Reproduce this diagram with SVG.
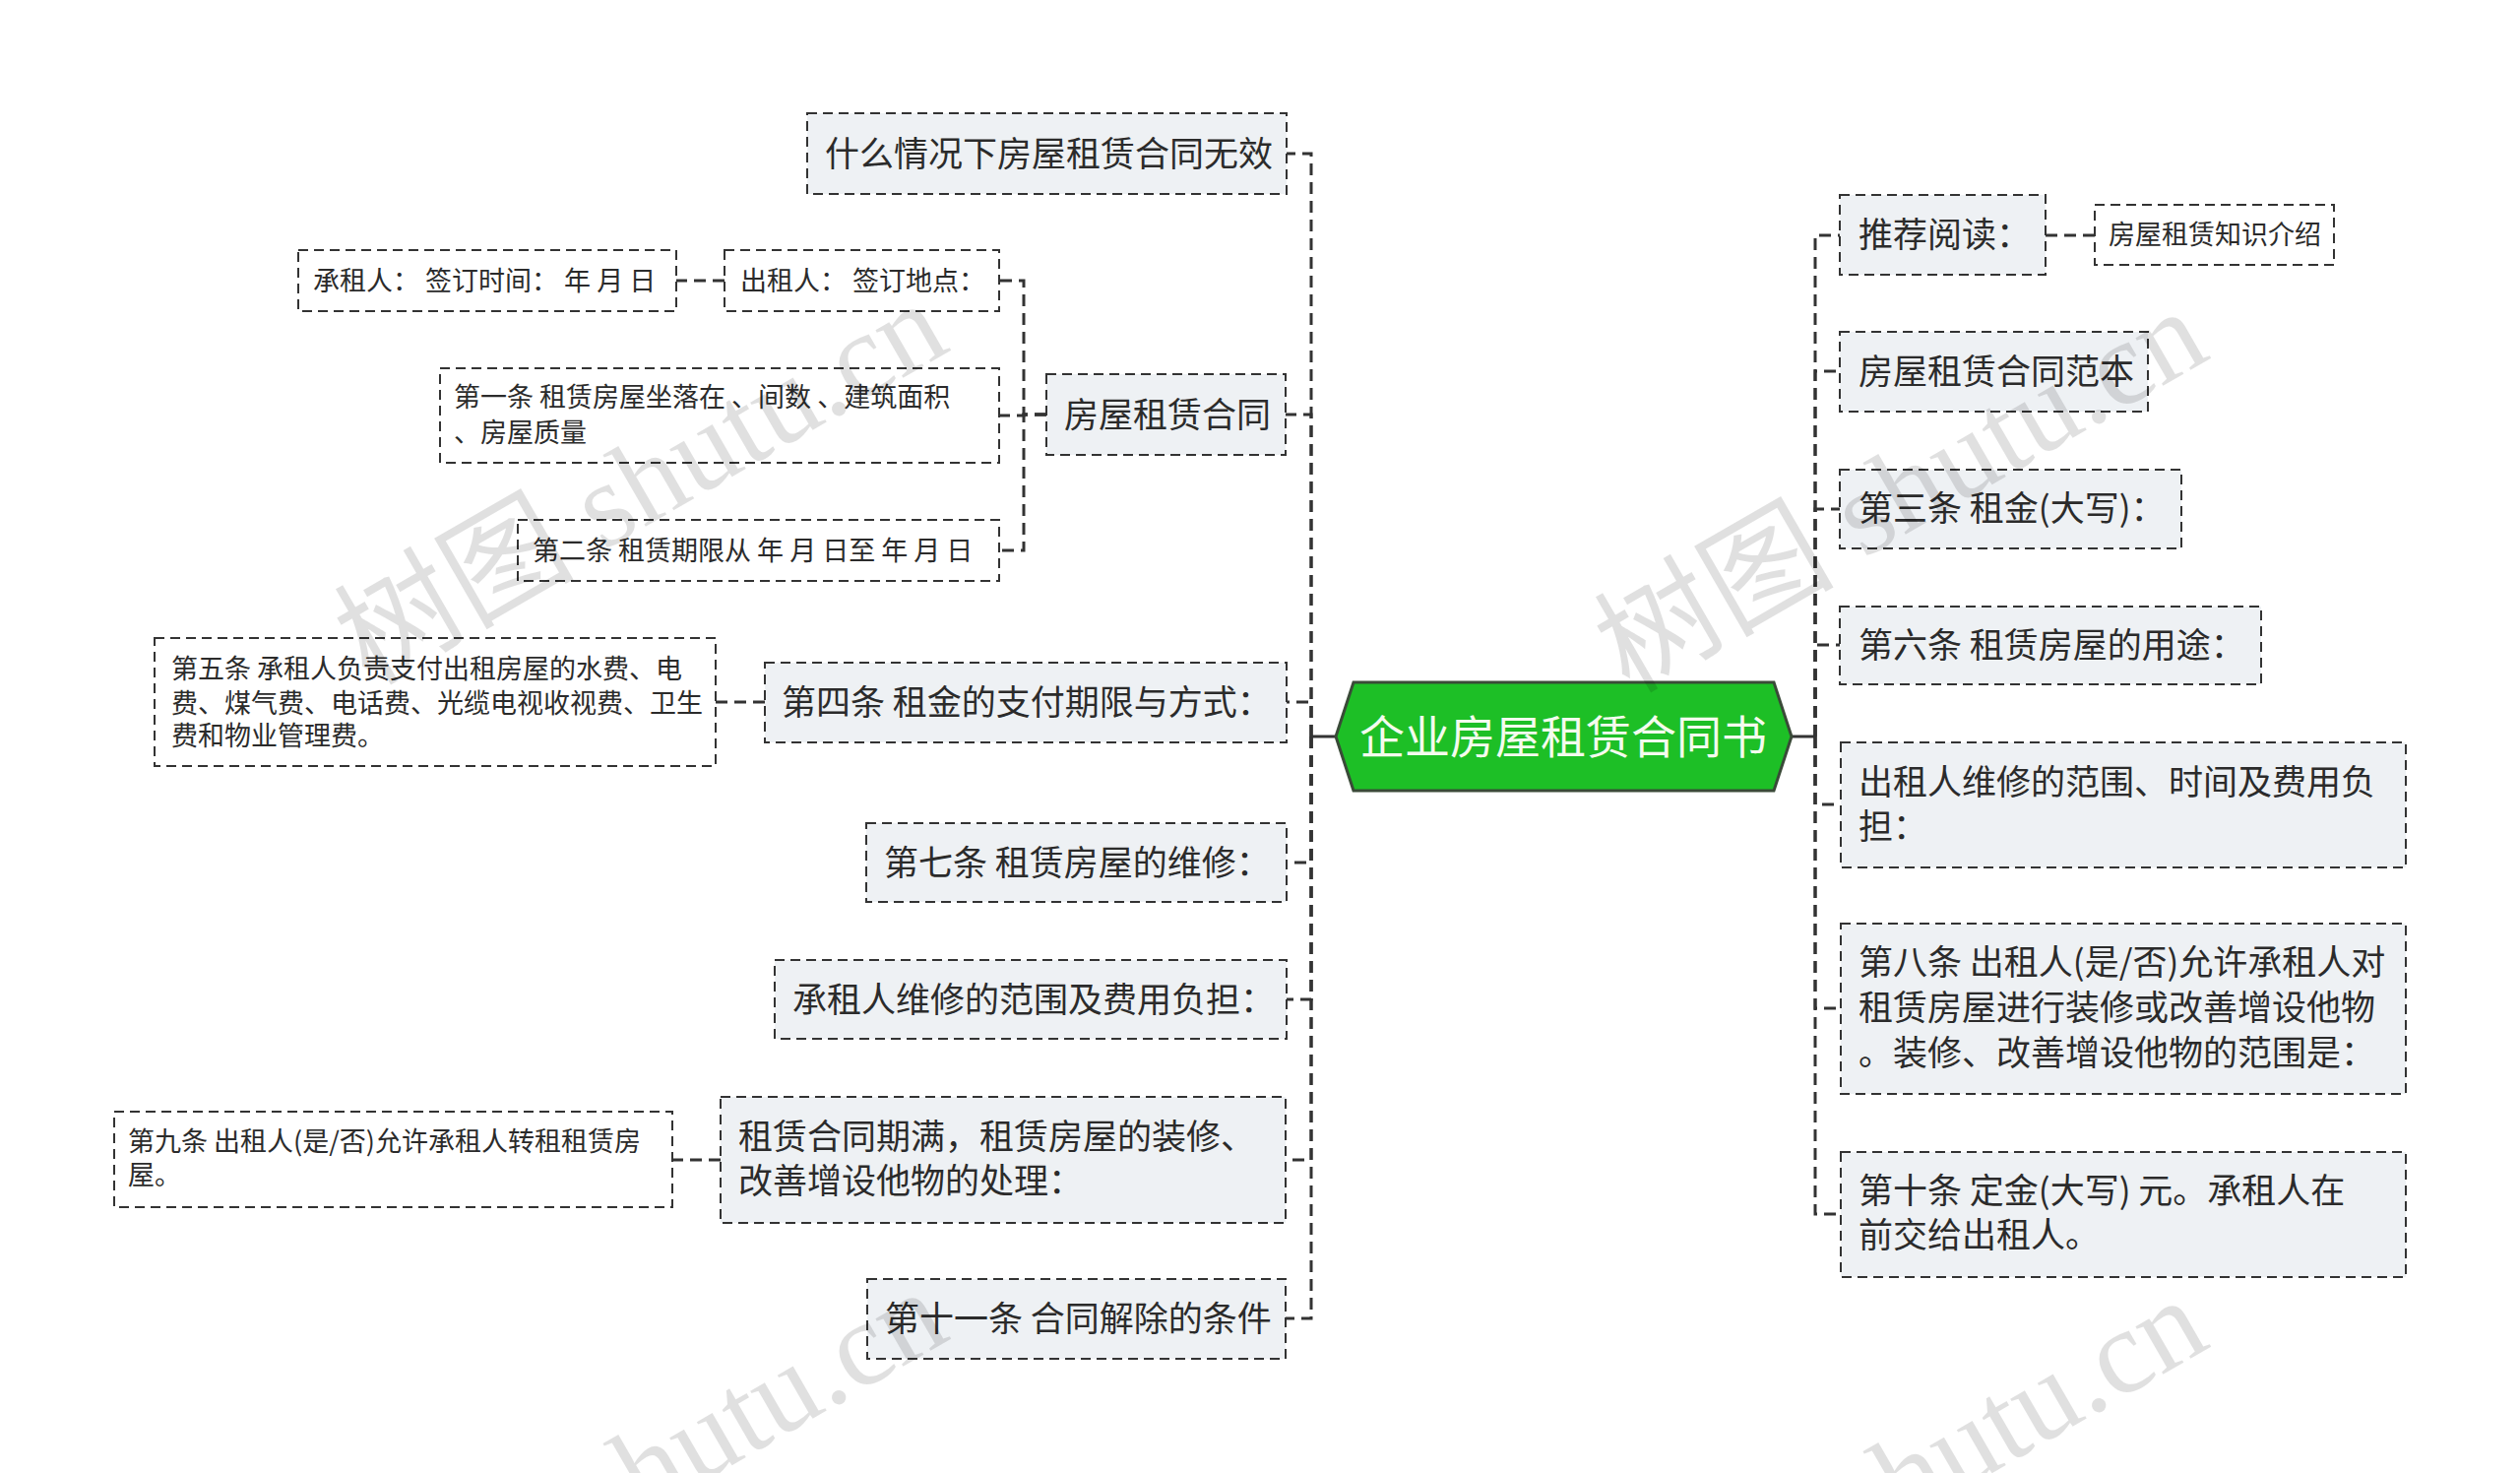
<svg xmlns="http://www.w3.org/2000/svg" width="2560" height="1496" viewBox="0 0 2560 1496">
<style>
.bg{fill:#ffffff}
.n1 rect{fill:#eef1f4;stroke:#333;stroke-width:2;stroke-dasharray:10 6}
.n2 rect{fill:#ffffff;stroke:#333;stroke-width:2;stroke-dasharray:10 6}
.t1{font-family:"Noto Sans CJK SC","Noto Sans",sans-serif;font-size:35px;fill:#2b2b2b}
.t2{font-family:"Noto Sans CJK SC","Noto Sans",sans-serif;font-size:27px;fill:#2b2b2b}
.tc{font-family:"Noto Sans CJK SC","Noto Sans",sans-serif;font-size:46px;fill:#f4fbee;text-anchor:middle}
.conn path{fill:none;stroke:#333;stroke-width:3;stroke-dasharray:12 7}
.conn .solid{stroke-dasharray:none}
.wm{font-family:"Liberation Serif","Noto Sans CJK SC",serif;font-size:122px;fill:#000;fill-opacity:0.12}
</style>
<rect class="bg" x="0" y="0" width="2560" height="1496"/>

<g id="connectors" class="conn">
  <path class="solid" d="M1357,748 H1332"/>
  <path class="solid" d="M1820,748 H1844"/>
  <path d="M1332,748 V156 H1307"/>
  <path d="M1332,748 V421 H1306"/>
  <path d="M1332,748 V713 H1307"/>
  <path d="M1332,748 V876 H1307"/>
  <path d="M1332,748 V1015 H1307"/>
  <path d="M1332,748 V1178 H1306"/>
  <path d="M1332,748 V1339 H1306"/>
  <path d="M1844,748 V239 H1869"/>
  <path d="M1844,748 V377 H1869"/>
  <path d="M1844,748 V517 H1869"/>
  <path d="M1844,748 V655 H1869"/>
  <path d="M1844,748 V817 H1870"/>
  <path d="M1844,748 V1024 H1870"/>
  <path d="M1844,748 V1233 H1870"/>
  <path d="M1063,421 H1040 V285 H1015"/>
  <path d="M1063,421 H1040 V422 H1015"/>
  <path d="M1063,421 H1040 V559 H1015"/>
  <path d="M736,285 H687"/>
  <path d="M777,713 H727"/>
  <path d="M732,1178 H683"/>
  <path d="M2078,239 H2128"/>
</g>

<g id="center">
  <polygon points="1357,748 1375,693 1802,693 1820,748 1802,803 1375,803" fill="#1dbf26" stroke="#3a4a38" stroke-width="3"/>
  <text class="tc" x="1588" y="765">企业房屋租赁合同书</text>
</g>

<g id="n-wuxiao" class="n1">
  <rect x="820" y="115" width="487" height="82"/>
  <text class="t1" x="838" y="169">什么情况下房屋租赁合同无效</text>
</g>
<g id="n-hetong" class="n1">
  <rect x="1063" y="380" width="243" height="82"/>
  <text class="t1" x="1081" y="434">房屋租赁合同</text>
</g>
<g id="n-chengzu" class="n2">
  <rect x="303" y="254" width="384" height="62"/>
  <text class="t2" x="318" y="295">承租人： 签订时间： 年 月 日</text>
</g>
<g id="n-chuzu" class="n2">
  <rect x="736" y="254" width="279" height="62"/>
  <text class="t2" x="752" y="295">出租人： 签订地点：</text>
</g>
<g id="n-tiao1" class="n2">
  <rect x="447" y="374" width="568" height="96"/>
  <text class="t2" x="461" y="413">第一条 租赁房屋坐落在 、间数 、建筑面积</text>
  <text class="t2" x="461" y="449">、房屋质量</text>
</g>
<g id="n-tiao2" class="n2">
  <rect x="526" y="528" width="489" height="62"/>
  <text class="t2" x="541" y="569">第二条 租赁期限从 年 月 日至 年 月 日</text>
</g>
<g id="n-tiao4" class="n1">
  <rect x="777" y="673" width="530" height="81"/>
  <text class="t1" x="794" y="726">第四条 租金的支付期限与方式：</text>
</g>
<g id="n-tiao5" class="n2">
  <rect x="157" y="648" width="570" height="130"/>
  <text class="t2" x="174" y="689">第五条 承租人负责支付出租房屋的水费、电</text>
  <text class="t2" x="174" y="724">费、煤气费、电话费、光缆电视收视费、卫生</text>
  <text class="t2" x="174" y="757">费和物业管理费。</text>
</g>
<g id="n-tiao7" class="n1">
  <rect x="880" y="836" width="427" height="80"/>
  <text class="t1" x="898" y="889">第七条 租赁房屋的维修：</text>
</g>
<g id="n-weixiu" class="n1">
  <rect x="787" y="975" width="520" height="80"/>
  <text class="t1" x="805" y="1028">承租人维修的范围及费用负担：</text>
</g>
<g id="n-qiman" class="n1">
  <rect x="732" y="1114" width="574" height="128"/>
  <text class="t1" x="750" y="1167">租赁合同期满，租赁房屋的装修、</text>
  <text class="t1" x="750" y="1212">改善增设他物的处理：</text>
</g>
<g id="n-tiao9" class="n2">
  <rect x="116" y="1129" width="567" height="97"/>
  <text class="t2" x="130" y="1169">第九条 出租人(是/否)允许承租人转租租赁房</text>
  <text class="t2" x="130" y="1203">屋。</text>
</g>
<g id="n-tiao11" class="n1">
  <rect x="881" y="1299" width="425" height="81"/>
  <text class="t1" x="899" y="1352">第十一条 合同解除的条件</text>
</g>

<g id="n-tuijian" class="n1">
  <rect x="1869" y="198" width="209" height="81"/>
  <text class="t1" x="1888" y="251">推荐阅读：</text>
</g>
<g id="n-zhishi" class="n2">
  <rect x="2128" y="208" width="243" height="61"/>
  <text class="t2" x="2142" y="248">房屋租赁知识介绍</text>
</g>
<g id="n-fanben" class="n1">
  <rect x="1869" y="337" width="313" height="81"/>
  <text class="t1" x="1888" y="390">房屋租赁合同范本</text>
</g>
<g id="n-tiao3" class="n1">
  <rect x="1869" y="477" width="347" height="80"/>
  <text class="t1" x="1888" y="529">第三条 租金(大写)：</text>
</g>
<g id="n-tiao6" class="n1">
  <rect x="1869" y="616" width="428" height="79"/>
  <text class="t1" x="1888" y="668">第六条 租赁房屋的用途：</text>
</g>
<g id="n-chuzuweixiu" class="n1">
  <rect x="1870" y="754" width="574" height="127"/>
  <text class="t1" x="1888" y="807">出租人维修的范围、时间及费用负</text>
  <text class="t1" x="1888" y="852">担：</text>
</g>
<g id="n-tiao8" class="n1">
  <rect x="1870" y="938" width="574" height="173"/>
  <text class="t1" x="1888" y="990">第八条 出租人(是/否)允许承租人对</text>
  <text class="t1" x="1888" y="1036">租赁房屋进行装修或改善增设他物</text>
  <text class="t1" x="1888" y="1082">。装修、改善增设他物的范围是：</text>
</g>
<g id="n-tiao10" class="n1">
  <rect x="1870" y="1170" width="574" height="127"/>
  <text class="t1" x="1888" y="1222">第十条 定金(大写) 元。承租人在</text>
  <text class="t1" x="1888" y="1267">前交给出租人。</text>
</g>

<g id="watermarks">
  <text class="wm" transform="translate(375,697) rotate(-30)">树图 shutu.cn</text>
  <text class="wm" transform="translate(1655,705) rotate(-30)">树图 shutu.cn</text>
  <text class="wm" transform="translate(375,1701) rotate(-30)">树图 shutu.cn</text>
  <text class="wm" transform="translate(1655,1709) rotate(-30)">树图 shutu.cn</text>
</g>
</svg>
